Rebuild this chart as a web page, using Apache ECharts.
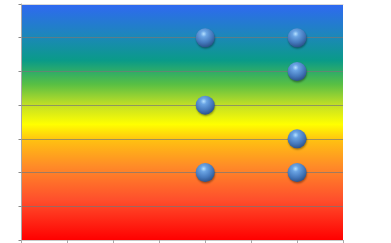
<!DOCTYPE html>
<html>
<head>
<meta charset="utf-8">
<script src="https://cdn.jsdelivr.net/npm/echarts@6/dist/echarts.min.js"></script>
<style>html,body{margin:0;padding:0;background:#fff}#c{width:391px;height:243px}</style>
</head>
<body>
<div id="c"></div>
<script>
var xValues = [4, 6, 6, 4, 6, 4, 6];
var yValues = [6, 6, 5, 4, 3, 2, 2];
var xMin = 0, xMax = 7, yMin = 0, yMax = 7;

var points = xValues.map(function (x, i) { return [x, yValues[i]]; });

var chart = echarts.init(document.getElementById('c'), null, { renderer: 'canvas' });
chart.setOption({
  animation: false,
  grid: {
    left: 21.5, right: 48, top: 4, bottom: 3,
    show: true, borderWidth: 0,
    backgroundColor: {
      type: 'linear', x: 0, y: 0, x2: 0, y2: 1,
      colorStops: [
        { offset: 0, color: '#2f68f2' },
        { offset: 0.13, color: '#1d86bc' },
        { offset: 0.24, color: '#0a9b88' },
        { offset: 0.34, color: '#58bf44' },
        { offset: 0.43, color: '#c4e024' },
        { offset: 0.51, color: '#ffff00' },
        { offset: 0.58, color: '#ffbf12' },
        { offset: 0.69, color: '#ff8a28' },
        { offset: 0.83, color: '#ff4f2c' },
        { offset: 1, color: '#ff0000' }
      ]
    }
  },
  xAxis: [{
    type: 'value', min: xMin, max: xMax, interval: 1,
    axisLine: { show: true, lineStyle: { color: '#c8c8c8', width: 1 } },
    axisTick: { show: true, length: 3, lineStyle: { color: '#a8a8a8' } },
    axisLabel: { show: false },
    splitLine: { show: false }
  }, {
    type: 'value', position: 'top', min: xMin, max: xMax, interval: 1,
    axisLine: { show: true, lineStyle: { color: '#d8d8d8', width: 1 } },
    axisTick: { show: false }, axisLabel: { show: false }, splitLine: { show: false }
  }],
  yAxis: {
    type: 'value', min: yMin, max: yMax, interval: 1,
    axisLine: { show: true, lineStyle: { color: '#a8a8a8', width: 1 } },
    axisTick: { show: true, length: 3, lineStyle: { color: '#8a8a8a' } },
    axisLabel: { show: false },
    splitLine: { show: true, lineStyle: { color: 'rgba(120,120,120,0.7)', width: 1 } }
  },
  series: [{
    type: 'scatter',
    data: points,
    symbolSize: 19,
    itemStyle: {
      opacity: 1,
      color: {
        type: 'radial', x: 0.42, y: 0.3, r: 0.72,
        colorStops: [
          { offset: 0, color: '#b4e0ff' },
          { offset: 0.22, color: '#6aa4e4' },
          { offset: 0.65, color: '#4478bc' },
          { offset: 1, color: '#2a5088' }
        ]
      },
      shadowBlur: 2,
      shadowColor: 'rgba(0,0,0,0.35)',
      shadowOffsetY: 1.5,
      shadowOffsetX: 0.5
    }
  }]
});
</script>
</body>
</html>
